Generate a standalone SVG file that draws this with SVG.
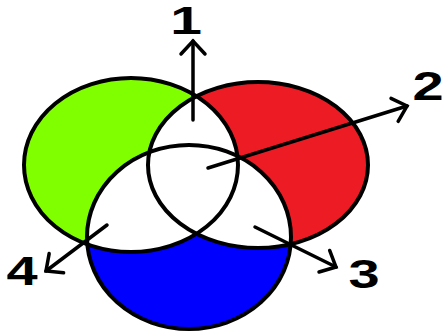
<svg xmlns="http://www.w3.org/2000/svg" width="443" height="333" viewBox="0 0 443 333">
<style>
.edge{fill:none;stroke:#000;stroke-width:4}
.arr{fill:none;stroke:#000;stroke-width:3.5;stroke-linecap:round}
.lbl{font-family:"Liberation Sans",Arial,sans-serif;font-weight:bold;font-size:40px;fill:#000;text-anchor:middle}
</style>
<defs>
<ellipse id="g" cx="131" cy="165" rx="107" ry="87"/>
<ellipse id="r" cx="258" cy="165" rx="110" ry="83"/>
<ellipse id="b" cx="189" cy="237" rx="102" ry="92"/>
<clipPath id="cg"><use href="#g"/></clipPath>
<clipPath id="cr"><use href="#r"/></clipPath>
<marker id="head" markerUnits="userSpaceOnUse" markerWidth="30" markerHeight="30" refX="0" refY="0" orient="auto" overflow="visible">
<path d="M -13 -12 L 0 0 L -13 12" fill="none" stroke="#000" stroke-width="3.5" stroke-linecap="round" stroke-linejoin="miter"/>
</marker>
</defs>
<g id="fills">
<use href="#g" fill="#80FF00"/>
<use href="#r" fill="#ED1C24"/>
<use href="#b" fill="#0000FF"/>
<use href="#r" fill="#fff" clip-path="url(#cg)"/>
<use href="#b" fill="#fff" clip-path="url(#cg)"/>
<use href="#b" fill="#fff" clip-path="url(#cr)"/>
</g>
<g id="set-green"><use href="#g" class="edge"/></g>
<g id="set-red"><use href="#r" class="edge"/></g>
<g id="set-blue"><use href="#b" class="edge"/></g>
<g id="connectors">
<line x1="193" y1="120" x2="193" y2="41" class="arr" stroke-width="5" marker-end="url(#head)"/>
<line x1="208" y1="168" x2="407" y2="106" class="arr" marker-end="url(#head)"/>
<line x1="255" y1="227" x2="336" y2="267" class="arr" marker-end="url(#head)"/>
<line x1="107" y1="225" x2="46" y2="271" class="arr" marker-end="url(#head)"/>
</g>
<g id="label-1"><text class="lbl" style="font-size:38px" transform="translate(186,34) scale(1.5,1)">1</text></g>
<g id="label-2"><text class="lbl" transform="translate(428,100) scale(1.4,1)">2</text></g>
<g id="label-3"><text class="lbl" transform="translate(364,288) scale(1.4,1)">3</text></g>
<g id="label-4"><text class="lbl" transform="translate(22,285) scale(1.4,1)">4</text></g>
</svg>
